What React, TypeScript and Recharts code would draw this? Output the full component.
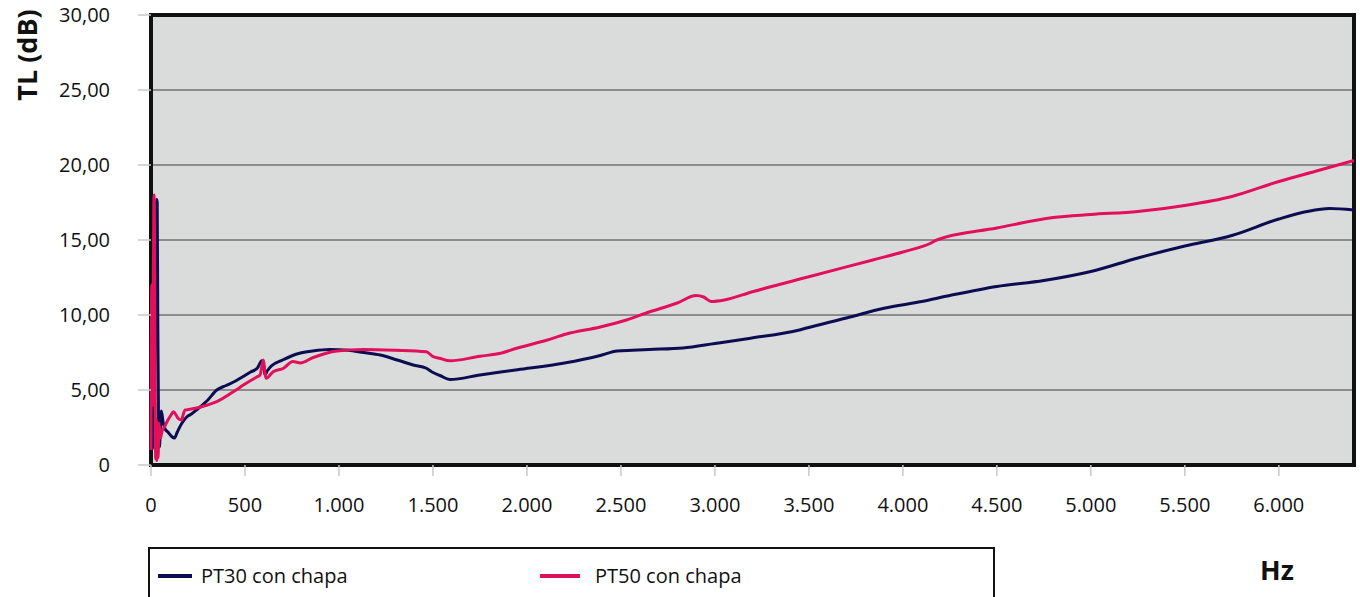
import React from "react";
import {
  LineChart,
  Line,
  XAxis,
  YAxis,
  CartesianGrid,
  ReferenceArea,
  Legend,
} from "recharts";

// PT30 con chapa: frequency (Hz) and transmission loss (dB)
const pt30Hz = [
  0, 5, 10, 15, 20, 25, 30, 33, 36, 40, 45, 50, 55, 65, 75, 90, 110, 125, 140,
  165, 190, 215, 245, 300, 350, 400, 450, 490, 530, 565, 590, 600, 606, 620,
  640, 700, 790, 860, 950, 1050, 1130, 1220, 1310, 1395, 1465, 1495, 1540,
  1590, 1750, 1950, 2200, 2390, 2480, 2560, 2650, 2830, 3000, 3190, 3450, 3540,
  3700, 3900, 4100, 4250, 4500, 4750, 5000, 5250, 5500, 5750, 6000, 6150, 6270,
  6400,
];
const pt30Tl = [
  1.5, 1.0, 2.5, 1.2, 6, 14, 17.7, 17.5, 10, 3, 1.2, 2.5, 3.6, 2.8, 2.4, 2.2,
  1.9, 1.8, 2.2, 2.8, 3.2, 3.4, 3.7, 4.3, 5.0, 5.3, 5.6, 5.9, 6.2, 6.45, 6.95,
  6.6, 6.0, 6.3, 6.6, 7.0, 7.45, 7.6, 7.7, 7.65, 7.5, 7.33, 7.0, 6.67, 6.45,
  6.2, 5.95, 5.7, 6.0, 6.35, 6.8, 7.3, 7.6, 7.65, 7.7, 7.8, 8.1, 8.45, 9.0,
  9.3, 9.8, 10.45, 10.9, 11.3, 11.9, 12.3, 12.9, 13.8, 14.6, 15.3, 16.4, 16.9,
  17.1, 17.0,
];

// PT50 con chapa
const pt50Hz = [
  0, 4, 7, 10, 13, 16, 19, 22, 25, 28, 31, 35, 38, 42, 50, 60, 70, 90, 105, 120,
  135, 145, 163, 172, 181, 200, 243, 300, 350, 440, 500, 560, 580, 598, 606,
  612, 650, 705, 755, 795, 860, 990, 1130, 1300, 1465, 1495, 1540, 1590, 1750,
  1860, 1950, 2100, 2210, 2390, 2530, 2650, 2800, 2900, 2940, 2980, 3050, 3200,
  3500, 3840, 4000, 4150, 4180, 4500, 4800, 5000, 5250, 5500, 5750, 6000, 6200,
  6400,
];
const pt50Tl = [
  1.0, 12, 4, 8, 13.5, 18, 15, 6, 0.4, 3, 0.3, 2, 0.5, 2.8, 1.8, 2.3, 2.5, 3.0,
  3.3, 3.55, 3.3, 3.1, 3.0, 3.4, 3.67, 3.7, 3.8, 4.0, 4.22, 4.9, 5.4, 5.85, 6.0,
  7.0, 6.2, 5.78, 6.22, 6.45, 6.9, 6.8, 7.15, 7.6, 7.7, 7.65, 7.55, 7.27, 7.1,
  6.95, 7.25, 7.45, 7.8, 8.3, 8.73, 9.2, 9.67, 10.2, 10.8, 11.3, 11.2, 10.9,
  11.0, 11.55, 12.55, 13.67, 14.2, 14.8, 15.0, 15.8, 16.5, 16.7, 16.9, 17.3,
  17.9, 18.9, 19.6, 20.3,
];

const xTicks = [0, 500, 1000, 1500, 2000, 2500, 3000, 3500, 4000, 4500, 5000, 5500, 6000];
const yTicks = [0, 5, 10, 15, 20, 25, 30];

const pt30 = pt30Hz.map((f, i) => ({ f, tl: pt30Tl[i] }));
const pt50 = pt50Hz.map((f, i) => ({ f, tl: pt50Tl[i] }));

const NAVY = "#0c0c50";
const PINK = "#e2105a";
const FONT = "'Open Sans', sans-serif";

const fmtX = (v: number) => v.toLocaleString("de-DE");
const fmtY = (v: number) => (v === 0 ? "0" : v.toFixed(2).replace(".", ","));

const LegendBox = () => (
  <div
    style={{
      width: 847,
      height: 60,
      border: "2px solid #111",
      boxSizing: "border-box",
      background: "#fff",
      position: "relative",
      fontFamily: FONT,
      fontSize: 20,
      color: "#111",
    }}
  >
    <div style={{ position: "absolute", left: 8, top: 25, width: 34, height: 4, background: NAVY }} />
    <div style={{ position: "absolute", left: 51, top: 13, lineHeight: "28px" }}>PT30 con chapa</div>
    <div style={{ position: "absolute", left: 390, top: 25, width: 40, height: 4, background: PINK }} />
    <div style={{ position: "absolute", left: 445, top: 13, lineHeight: "28px" }}>PT50 con chapa</div>
  </div>
);

export default function App() {
  return (
    <div
      style={{
        position: "absolute",
        left: 0,
        top: 0,
        width: 1360,
        height: 597,
        overflow: "hidden",
        background: "#fff",
        fontFamily: FONT,
      }}
    >
      <LineChart
        width={1360}
        height={597}
        margin={{ top: 15, right: 6, left: 0, bottom: 0 }}
      >
        <CartesianGrid
          vertical={false}
          stroke="#8c8c8c"
          strokeWidth={2}
          fill="#dadcdc"
          fillOpacity={1}
        />
        <XAxis
          type="number"
          dataKey="f"
          domain={[0, 6400]}
          ticks={xTicks}
          tickFormatter={fmtX}
          height={132}
          axisLine={false}
          tickLine={{ stroke: "#c8c8c8", strokeWidth: 1.5 }}
          tickSize={11}
          tickMargin={22}
          tick={{ fontSize: 20, fill: "#111", fontFamily: FONT }}
          allowDuplicatedCategory={false}
        />
        <YAxis
          type="number"
          domain={[0, 30]}
          ticks={yTicks}
          tickFormatter={fmtY}
          width={151}
          axisLine={false}
          tickLine={{ stroke: "#c8c8c8", strokeWidth: 1.5 }}
          tickSize={13}
          tickMargin={28}
          tick={{ fontSize: 20, fill: "#111", fontFamily: FONT }}
        />
        <Legend
          layout="horizontal"
          verticalAlign="middle"
          align="center"
          content={() => <LegendBox />}
          wrapperStyle={{ left: 148, top: 547, width: 847, height: 60 }}
        />
        <Line
          data={pt30}
          dataKey="tl"
          name="PT30 con chapa"
          type="monotone"
          stroke={NAVY}
          strokeWidth={3}
          dot={false}
          isAnimationActive={false}
        />
        <Line
          data={pt50}
          dataKey="tl"
          name="PT50 con chapa"
          type="monotone"
          stroke={PINK}
          strokeWidth={3}
          dot={false}
          isAnimationActive={false}
        />
        <ReferenceArea
          x1={0}
          x2={6400}
          y1={0}
          y2={30}
          fill="none"
          stroke="#111"
          strokeWidth={4}
          ifOverflow="visible"
        />
      </LineChart>
      <div
        style={{
          position: "absolute",
          left: 26,
          top: 55,
          transform: "translate(-50%, -50%) rotate(-90deg)",
          fontSize: 27,
          fontWeight: 700,
          color: "#111",
          whiteSpace: "nowrap",
        }}
      >
        TL (dB)
      </div>
      <div
        style={{
          position: "absolute",
          left: 1260,
          top: 552,
          fontSize: 27,
          fontWeight: 700,
          color: "#111",
          lineHeight: "36px",
        }}
      >
        Hz
      </div>
    </div>
  );
}
